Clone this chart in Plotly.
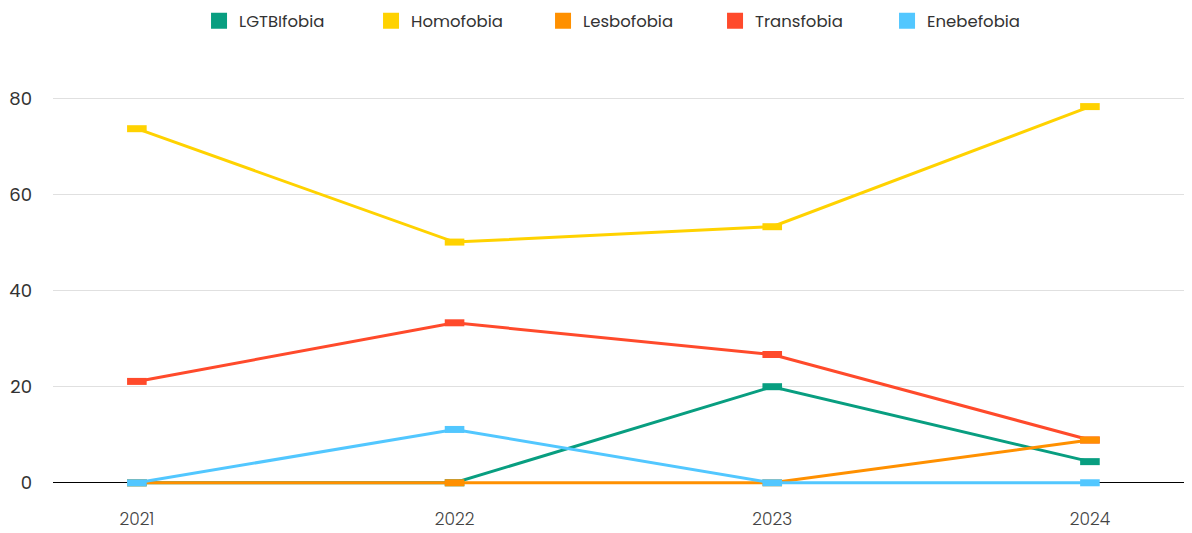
import plotly.graph_objects as go

years = [2021, 2022, 2023, 2024]
series_names = ["LGTBIfobia", "Homofobia", "Lesbofobia", "Transfobia", "Enebefobia"]
lgtbifobia = [0, 0, 20.0, 4.4]
homofobia = [73.7, 50.1, 53.3, 78.3]
lesbofobia = [0, 0, 0, 8.9]
transfobia = [21.1, 33.3, 26.7, 8.9]
enebefobia = [0, 11.1, 0, 0]
y_ticks = [0, 20, 40, 60, 80]

colors = {
    "LGTBIfobia": "#089E80",
    "Homofobia": "#FFD200",
    "Lesbofobia": "#FF9000",
    "Transfobia": "#FF4A2B",
    "Enebefobia": "#52C7FF",
}
values = {
    "LGTBIfobia": lgtbifobia,
    "Homofobia": homofobia,
    "Lesbofobia": lesbofobia,
    "Transfobia": transfobia,
    "Enebefobia": enebefobia,
}

FONT = "Poppins, Inter, 'Open Sans', sans-serif"
fig = go.Figure()

draw_order = ["LGTBIfobia", "Homofobia", "Transfobia", "Lesbofobia", "Enebefobia"]
for name in draw_order:
    c = colors[name]
    fig.add_trace(go.Scatter(
        x=years, y=values[name], name=name, mode="lines+markers",
        line=dict(color=c, width=3),
        marker=dict(symbol="line-ew", size=14, color=c, line=dict(color=c, width=7)),
        showlegend=False, legendgroup=name,
    ))

# legend swatches
for name in series_names:
    c = colors[name]
    fig.add_trace(go.Scatter(
        x=[None], y=[None], name=name, mode="markers",
        marker=dict(symbol="square", size=16, color=c),
        showlegend=True, legendgroup=name,
    ))

# page body has an 8px default margin, so layout is offset by -8px
fig.update_layout(
    width=1192, height=533,
    margin=dict(l=45, r=10, t=52, b=39),
    paper_bgcolor="white", plot_bgcolor="white",
    font=dict(family=FONT, color="#333333", size=16),
    legend=dict(orientation="h", xref="container", yref="container",
                x=0.521, xanchor="center", y=1 - 13 / 533, yanchor="middle",
                font=dict(size=16.5, color="#333333"), itemsizing="trace",
                itemwidth=30, tracegroupgap=0, entrywidth=127, entrywidthmode="pixels"),
    xaxis=dict(range=[2020.736, 2024.315], tickvals=years, ticktext=[str(y) for y in years],
               showgrid=False, zeroline=False, showline=False, automargin=False,
               ticklabelstandoff=5, tickfont=dict(size=17, color="#444444", weight=300)),
    yaxis=dict(range=[-4, 88], tickvals=y_ticks, showgrid=True, gridcolor="#E0E0E0",
               gridwidth=1, zeroline=True, zerolinecolor="#000000", zerolinewidth=1,
               showline=False, automargin=False, ticklabelstandoff=20,
               tickfont=dict(size=18, color="#333333")),
)

fig.write_html("out.html")
